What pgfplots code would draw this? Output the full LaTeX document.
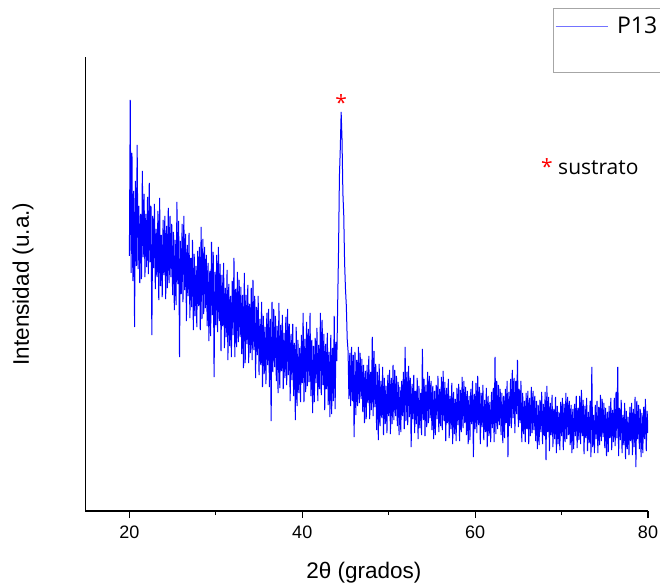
\documentclass[border=0pt]{standalone}
\usepackage{fontspec}
\setmainfont{Liberation Sans}
\newfontfamily\opensans{Open Sans}
\usepackage{pgfplots}
\pgfplotsset{compat=1.18}
\begin{document}
\begin{tikzpicture}
\path[use as bounding box] (0,0) rectangle (660bp,585bp);
\begin{axis}[
  at={(85.3bp,74bp)}, anchor=south west,
  scale only axis, width=562.7bp, height=454bp,
  xmin=14.9, xmax=80, ymin=0, ymax=454,
  axis x line*=bottom, axis y line*=left,
  axis line style={line width=1.2bp, black, -},
  xtick={20,40,60,80}, minor xtick={30,50,70},
  ytick=\empty,
  tick align=outside,
  major tick length=7bp, minor tick length=4bp,
  every tick/.style={black, line width=1.2bp},
  /pgf/number format/assume math mode=true,
  xticklabel style={font=\fontsize{18bp}{20bp}\selectfont, anchor=north, inner sep=0pt, yshift=-7.5bp},
  xlabel={2θ (grados)}, ylabel={Intensidad (u.a.)},
  label style={font=\fontsize{22.5bp}{25bp}\selectfont},
  xlabel style={at={(axis description cs:0.495,-0.1366)}, anchor=center},
  ylabel style={at={(axis description cs:-0.1107,0.5)}, anchor=center},
  legend style={at={(axis description cs:0.831,1.108)}, anchor=north west,
    draw=gray!70, line width=0.8bp, inner xsep=2bp, inner ysep=5.5bp,
    nodes={inner sep=3bp}, column sep=6bp,
    font=\opensans\fontsize{23bp}{26bp}\selectfont, legend cell align=left},
  legend image code/.code={\draw[blue!55, line width=0.8bp] (0bp,0bp) -- (52bp,0bp);},
]
\addplot[blue, line width=1bp, line join=bevel] coordinates {
(20.0,255)(20.1,411)(20.2,238)(20.3,358)(20.4,230)(20.5,320)(20.6,184)(20.7,330)(20.8,245)(20.9,366)
(21.0,242)(21.1,305)(21.2,228)(21.3,297)(21.4,232)(21.5,340)(21.6,254)(21.7,317)(21.8,234)(21.9,297)
(22.0,244)(22.1,314)(22.2,237)(22.3,328)(22.4,249)(22.5,305)(22.6,176)(22.7,295)(22.8,243)(22.9,307)
(23.0,222)(23.1,282)(23.2,234)(23.3,300)(23.4,211)(23.5,313)(23.6,225)(23.7,276)(23.8,214)(23.9,291)
(24.0,236)(24.1,295)(24.2,212)(24.3,285)(24.4,223)(24.5,303)(24.6,228)(24.7,295)(24.8,234)(24.9,287)
(25.0,216)(25.1,279)(25.2,201)(25.3,271)(25.4,206)(25.5,309)(25.6,227)(25.7,290)(25.8,154)(25.9,270)
(26.0,217)(26.1,287)(26.2,209)(26.3,295)(26.4,221)(26.5,277)(26.6,190)(26.7,266)(26.8,215)(26.9,278)
(27.0,193)(27.1,253)(27.2,204)(27.3,271)(27.4,181)(27.5,257)(27.6,195)(27.7,245)(27.8,184)(27.9,260)
(28.0,205)(28.1,264)(28.2,181)(28.3,284)(28.4,192)(28.5,272)(28.6,197)(28.7,264)(28.8,203)(28.9,256)
(29.0,185)(29.1,248)(29.2,170)(29.3,240)(29.4,175)(29.5,269)(29.6,196)(29.7,259)(29.8,134)(29.9,239)
(30.0,186)(30.1,256)(30.2,179)(30.3,264)(30.4,190)(30.5,247)(30.6,160)(30.7,236)(30.8,185)(30.9,248)
(31.0,163)(31.1,223)(31.2,174)(31.3,241)(31.4,151)(31.5,227)(31.6,165)(31.7,215)(31.8,154)(31.9,230)
(32.0,176)(32.1,253)(32.2,154)(32.3,222)(32.4,164)(32.5,239)(32.6,169)(32.7,231)(32.8,174)(32.9,224)
(33.0,157)(33.1,216)(33.2,143)(33.3,238)(33.4,148)(33.5,216)(33.6,167)(33.7,226)(33.8,148)(33.9,207)
(34.0,158)(34.1,223)(34.2,151)(34.3,231)(34.4,161)(34.5,215)(34.6,133)(34.7,204)(34.8,156)(34.9,215)
(35.0,136)(35.1,192)(35.2,146)(35.3,209)(35.4,124)(35.5,195)(35.6,137)(35.7,184)(35.8,127)(35.9,198)
(36.0,146)(36.1,202)(36.2,124)(36.3,192)(36.4,90)(36.5,209)(36.6,139)(36.7,202)(36.8,144)(36.9,195)
(37.0,130)(37.1,185)(37.2,118)(37.3,208)(37.4,123)(37.5,186)(37.6,140)(37.7,196)(37.8,122)(37.9,178)
(38.0,133)(38.1,194)(38.2,126)(38.3,202)(38.4,136)(38.5,187)(38.6,110)(38.7,177)(38.8,131)(38.9,187)
(39.0,115)(39.1,168)(39.2,91)(39.3,184)(39.4,105)(39.5,171)(39.6,118)(39.7,163)(39.8,109)(39.9,176)
(40.0,128)(40.1,198)(40.2,109)(40.3,172)(40.4,119)(40.5,189)(40.6,125)(40.7,182)(40.8,129)(40.9,198)
(41.0,115)(41.1,171)(41.2,98)(41.3,165)(41.4,109)(41.5,173)(41.6,128)(41.7,183)(41.8,110)(41.9,166)
(42.0,122)(42.1,198)(42.2,116)(42.3,191)(42.4,126)(42.5,177)(42.6,101)(42.7,167)(42.8,122)(42.9,178)
(43.0,106)(43.1,159)(43.2,94)(43.3,176)(43.4,97)(43.5,163)(43.6,110)(43.7,195)(43.8,102)(43.9,169)
(44.0,150)(44.1,208)(44.2,262)(44.3,335)(44.4,362)(44.5,399)(44.6,372)(44.7,318)(44.8,296)(44.9,248)
(45.0,222)(45.1,205)(45.2,172)(45.3,160)(45.4,112)(45.5,158)(45.6,105)(45.7,164)(45.8,110)(45.9,156)
(46.0,74)(46.1,159)(46.2,96)(46.3,151)(46.4,105)(46.5,164)(46.6,108)(46.7,158)(46.8,112)(46.9,152)
(47.0,99)(47.1,146)(47.2,88)(47.3,140)(47.4,92)(47.5,146)(47.6,108)(47.7,155)(47.8,92)(47.9,139)
(48.0,101)(48.1,174)(48.2,95)(48.3,160)(48.4,104)(48.5,147)(48.6,81)(48.7,139)(48.8,71)(48.9,147)
(49.0,85)(49.1,130)(49.2,93)(49.3,144)(49.4,76)(49.5,133)(49.6,87)(49.7,125)(49.8,78)(49.9,136)
(50.0,95)(50.1,141)(50.2,77)(50.3,133)(50.4,87)(50.5,146)(50.6,91)(50.7,141)(50.8,95)(50.9,135)
(51.0,85)(51.1,129)(51.2,76)(51.3,124)(51.4,79)(51.5,130)(51.6,95)(51.7,139)(51.8,82)(51.9,164)
(52.0,90)(52.1,139)(52.2,86)(52.3,145)(52.4,94)(52.5,133)(52.6,64)(52.7,127)(52.8,92)(52.9,136)
(53.0,78)(53.1,120)(53.2,87)(53.3,133)(53.4,72)(53.5,125)(53.6,83)(53.7,118)(53.8,76)(53.9,162)
(54.0,91)(54.1,132)(54.2,75)(54.3,126)(54.4,84)(54.5,139)(54.6,88)(54.7,135)(54.8,93)(54.9,130)
(55.0,81)(55.1,125)(55.2,72)(55.3,120)(55.4,76)(55.5,126)(55.6,92)(55.7,135)(55.8,79)(55.9,122)
(56.0,85)(56.1,134)(56.2,81)(56.3,140)(56.4,90)(56.5,129)(56.6,70)(56.7,123)(56.8,88)(56.9,132)
(57.0,73)(57.1,115)(57.2,82)(57.3,128)(57.4,67)(57.5,119)(57.6,77)(57.7,112)(57.8,70)(57.9,123)
(58.0,86)(58.1,127)(58.2,70)(58.3,121)(58.4,79)(58.5,134)(58.6,83)(58.7,130)(58.8,88)(58.9,124)
(59.0,76)(59.1,120)(59.2,67)(59.3,115)(59.4,71)(59.5,122)(59.6,87)(59.7,130)(59.8,54)(59.9,117)
(60.0,82)(60.1,128)(60.2,78)(60.3,135)(60.4,86)(60.5,124)(60.6,67)(60.7,118)(60.8,84)(60.9,126)
(61.0,71)(61.1,111)(61.2,79)(61.3,123)(61.4,64)(61.5,115)(61.6,75)(61.7,109)(61.8,69)(61.9,119)
(62.0,83)(62.1,123)(62.2,69)(62.3,154)(62.4,77)(62.5,130)(62.6,82)(62.7,126)(62.8,86)(62.9,122)
(63.0,76)(63.1,118)(63.2,68)(63.3,115)(63.4,73)(63.5,122)(63.6,88)(63.7,130)(63.8,54)(63.9,119)
(64.0,85)(64.1,132)(64.2,83)(64.3,141)(64.4,93)(64.5,133)(64.6,78)(64.7,130)(64.8,97)(64.9,151)
(65.0,84)(65.1,122)(65.2,88)(65.3,130)(65.4,69)(65.5,118)(65.6,77)(65.7,110)(65.8,69)(65.9,118)
(66.0,82)(66.1,120)(66.2,67)(66.3,113)(66.4,75)(66.5,124)(66.6,78)(66.7,120)(66.8,81)(66.9,115)
(67.0,70)(67.1,110)(67.2,62)(67.3,106)(67.4,66)(67.5,111)(67.6,79)(67.7,119)(67.8,67)(67.9,107)
(68.0,75)(68.1,119)(68.2,51)(68.3,125)(68.4,79)(68.5,114)(68.6,60)(68.7,108)(68.8,76)(68.9,116)
(69.0,64)(69.1,102)(69.2,72)(69.3,114)(69.4,58)(69.5,105)(69.6,67)(69.7,99)(69.8,61)(69.9,109)
(70.0,75)(70.1,113)(70.2,61)(70.3,107)(70.4,69)(70.5,118)(70.6,72)(70.7,114)(70.8,76)(70.9,110)
(71.0,66)(71.1,106)(71.2,58)(71.3,102)(71.4,62)(71.5,107)(71.6,75)(71.7,115)(71.8,63)(71.9,103)
(72.0,71)(72.1,115)(72.2,67)(72.3,121)(72.4,75)(72.5,111)(72.6,57)(72.7,105)(72.8,73)(72.9,113)
(73.0,60)(73.1,99)(73.2,68)(73.3,110)(73.4,54)(73.5,144)(73.6,64)(73.7,96)(73.8,58)(73.9,106)
(74.0,72)(74.1,110)(74.2,58)(74.3,104)(74.4,66)(74.5,116)(74.6,70)(74.7,112)(74.8,74)(74.9,108)
(75.0,63)(75.1,103)(75.2,55)(75.3,99)(75.4,59)(75.5,105)(75.6,73)(75.7,113)(75.8,61)(75.9,101)
(76.0,69)(76.1,113)(76.2,65)(76.3,119)(76.4,73)(76.5,144)(76.6,55)(76.7,103)(76.8,71)(76.9,111)
(77.0,58)(77.1,96)(77.2,66)(77.3,108)(77.4,52)(77.5,100)(77.6,62)(77.7,94)(77.8,56)(77.9,104)
(78.0,70)(78.1,108)(78.2,56)(78.3,102)(78.4,64)(78.5,114)(78.6,44)(78.7,110)(78.8,72)(78.9,106)
(79.0,62)(79.1,102)(79.2,54)(79.3,98)(79.4,58)(79.5,104)(79.6,72)(79.7,112)(79.8,60)(79.9,100)(80.0,78)
};
\addlegendentry{P13}
\addlegendimage{empty legend}
\addlegendentry{\rule{0pt}{21bp}}
\node[red, anchor=base, inner sep=0pt, font=\opensans\fontsize{21bp}{24bp}\selectfont] at (axis cs:44.49,400) {*};
\node[anchor=base west, inner sep=0pt, font=\opensans\fontsize{21bp}{24bp}\selectfont] at (axis cs:67.62,336) {\textcolor{red}{*} sustrato};
\end{axis}
\end{tikzpicture}
\end{document}
